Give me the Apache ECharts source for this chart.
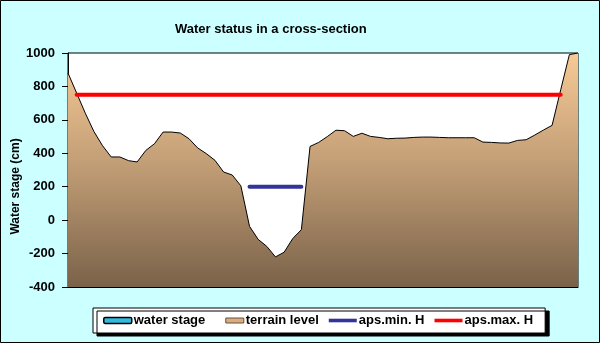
<!DOCTYPE html>
<html>
<head>
<meta charset="utf-8">
<script src="https://cdn.jsdelivr.net/npm/echarts@6/dist/echarts.min.js"></script>
<style>
html,body{margin:0;padding:0;background:#ccffff;}
#chart{width:600px;height:343px;}
</style>
</head>
<body>
<div id="chart"></div>
<script>
var titleText = 'Water status in a cross-section';
var yAxisName = 'Water stage (cm)';
var seriesNames = ['water stage', 'terrain level', 'aps.min. H', 'aps.max. H'];
var categories = [];
for (var i = 1; i <= 60; i++) categories.push(String(i));

var waterStage = [];
var terrainLevel = [880, 760, 640, 530, 445, 378, 378, 356, 348, 417,
  457, 527, 527, 521, 487, 432, 398, 358, 288, 270,
  205, -37, -115, -157, -220, -192, -110, -57, 441, 465,
  500, 538, 535, 501, 520, 501, 495, 487, 490, 491,
  495, 497, 497, 495, 493, 493, 493, 493, 467, 465,
  462, 461, 477, 481, 509, 539, 567, 780, 990, 1000];
var apsMin = [null, null, null, null, null, null, null, null, null, null,
  null, null, null, null, null, null, null, null, null, null,
  null, 200, 200, 200, 200, 200, 200, 200, null, null,
  null, null, null, null, null, null, null, null, null, null,
  null, null, null, null, null, null, null, null, null, null,
  null, null, null, null, null, null, null, null, null, null];
var apsMax = [null, 750, 750, 750, 750, 750, 750, 750, 750, 750,
  750, 750, 750, 750, 750, 750, 750, 750, 750, 750,
  750, 750, 750, 750, 750, 750, 750, 750, 750, 750,
  750, 750, 750, 750, 750, 750, 750, 750, 750, 750,
  750, 750, 750, 750, 750, 750, 750, 750, 750, 750,
  750, 750, 750, 750, 750, 750, 750, 750, null, null];
var yTicks = {min: -400, max: 1000, interval: 200};

var font = 'Liberation Sans, Arial, Helvetica, sans-serif';
var chart = echarts.init(document.getElementById('chart'), null, {renderer: 'canvas'});
var terrainGrad = new echarts.graphic.LinearGradient(0, 0, 0, 1, [
  {offset: 0, color: '#f7ca96'},
  {offset: 0.5, color: '#bf9b74'},
  {offset: 1, color: '#7a6249'}
]);
var option = {
  animation: false,
  backgroundColor: '#ccffff',
  title: {
    text: titleText,
    left: 170, top: 18,
    textStyle: {fontFamily: font, fontSize: 13, fontWeight: 'bold', color: '#000'}
  },
  legend: {
    left: 93, top: 308,
    orient: 'horizontal',
    itemWidth: 28, itemHeight: 6, itemGap: 10,
    padding: [6, 12, 6, 10],
    backgroundColor: '#fff', borderColor: '#000', borderWidth: 1,
    shadowColor: '#000', shadowOffsetX: 4, shadowOffsetY: 3, shadowBlur: 0,
    textStyle: {fontFamily: font, fontSize: 13, fontWeight: 'bold', color: '#000', padding: [0, 0, 0, -3]},
    data: [
      {name: seriesNames[0], icon: 'roundRect', itemStyle: {color: '#33bbdd', borderColor: '#000', borderWidth: 1.5}},
      {name: seriesNames[1], icon: 'path://M0,0 M10,0.5H28V5.5H10Z M28,6', itemStyle: {color: '#d9ad80', borderColor: '#6b5038', borderWidth: 1}},
      {name: seriesNames[2], icon: 'path://M0,0 M0,1.2H28V4.8H0Z M28,6', itemStyle: {color: '#333399', borderWidth: 0}},
      {name: seriesNames[3], icon: 'path://M0,0 M0,1.2H28V4.8H0Z M28,6', itemStyle: {color: '#ff0000', borderWidth: 0}}
    ]
  },
  grid: {
    left: 68, right: 22, top: 53, bottom: 56,
    outerBoundsMode: 'none', containLabel: false,
    show: true, backgroundColor: '#ffffff', borderColor: '#000', borderWidth: 1
  },
  xAxis: {
    type: 'category', data: categories, boundaryGap: false,
    axisLine: {show: true, onZero: false, lineStyle: {color: '#000', width: 1}},
    axisTick: {show: false}, axisLabel: {show: false}, splitLine: {show: false}
  },
  yAxis: {
    type: 'value', min: yTicks.min, max: yTicks.max, interval: yTicks.interval,
    name: yAxisName, nameLocation: 'middle', nameGap: 46, nameMoveOverlap: false,
    nameTextStyle: {fontFamily: font, fontSize: 12, fontWeight: 'bold', color: '#000', padding: [0, 33, 0, 0]},
    axisLine: {show: true, lineStyle: {color: '#000', width: 1}},
    axisTick: {show: true, inside: false, length: 6, lineStyle: {color: '#000'}},
    axisLabel: {margin: 13, fontFamily: font, fontSize: 13, fontWeight: 'bold', color: '#000',
      formatter: function (v) { return String(v); }},
    splitLine: {show: false}
  },
  series: [
    {name: seriesNames[0], type: 'line', data: waterStage, showSymbol: false,
      itemStyle: {color: '#33bbdd'}, lineStyle: {color: '#33bbdd', width: 3}},
    {name: seriesNames[1], type: 'line', data: terrainLevel, showSymbol: false, z: 2,
      itemStyle: {color: '#d9ad80'},
      lineStyle: {color: '#000', width: 1},
      areaStyle: {origin: 'start', color: terrainGrad, opacity: 1}},
    {name: seriesNames[2], type: 'line', data: apsMin, showSymbol: false, z: 3,
      itemStyle: {color: '#333399'},
      lineStyle: {color: '#333399', width: 4, cap: 'round'}},
    {name: seriesNames[3], type: 'line', data: apsMax, showSymbol: false, z: 3,
      itemStyle: {color: '#ff0000'},
      lineStyle: {color: '#ff0000', width: 4, cap: 'round'}}
  ],
  graphic: [{
    type: 'rect', z: 100, silent: true,
    shape: {x: 0.5, y: 0.5, width: 599, height: 342},
    style: {fill: 'transparent', stroke: '#000', lineWidth: 1}
  }]
};
chart.setOption(option);
</script>
</body>
</html>
